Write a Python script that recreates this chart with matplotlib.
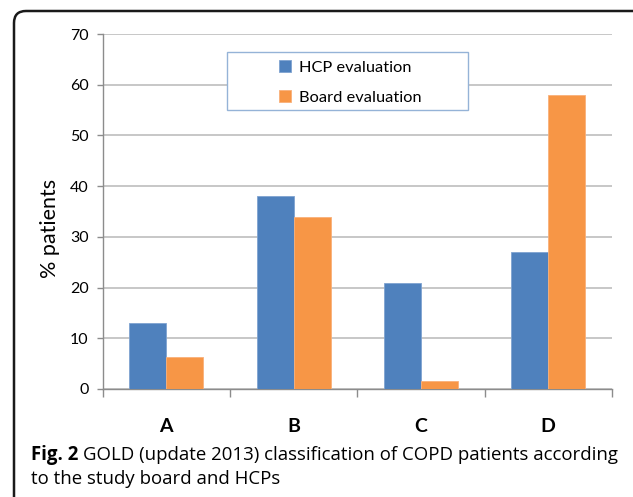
import matplotlib
matplotlib.use("Agg")
import matplotlib.pyplot as plt
import numpy as np
from matplotlib.patches import FancyBboxPatch, Rectangle
from matplotlib.transforms import IdentityTransform

# data
categories = ["A", "B", "C", "D"]
hcp_values = [13, 38, 21, 27]
board_values = [6.3, 34, 1.5, 58]
series_names = ["HCP evaluation", "Board evaluation"]
y_ticks = [0, 10, 20, 30, 40, 50, 60, 70]

COLORS = {
    'hcp': '#4F81BD',
    'board': '#F79646',
    'grid': '#B8B8B8',
    'axis': '#8C8C8C',
    'legend_edge': '#95B3D7',
    'frame': '#1A1A1A',
}

plt.rcParams['font.family'] = ['Lato', 'DejaVu Sans']

W, H = 633, 497
fig = plt.figure(figsize=(W / 100, H / 100), dpi=100)
ax = fig.add_axes([102.5 / W, 1 - 389 / H, (612 - 102.5) / W, (389 - 34) / H])

x = np.arange(len(categories))
bw = 0.29
ax.bar(x - bw / 2, hcp_values, bw, color=COLORS['hcp'], edgecolor='#7FA3D0',
       linewidth=0.6, label=series_names[0], zorder=3)
ax.bar(x + bw / 2, board_values, bw, color=COLORS['board'], edgecolor='#F9B07A',
       linewidth=0.6, label=series_names[1], zorder=3)

ax.set_xlim(-0.5, len(categories) - 0.5)
ax.set_ylim(0, 70)
ax.set_yticks(y_ticks)
ax.tick_params(axis='y', labelsize=11.5, length=4, width=1, color=COLORS['axis'], pad=6)
ax.yaxis.grid(True, color=COLORS['grid'], linewidth=1.1, zorder=0)
ax.set_axisbelow(True)

# category labels centred, tick marks at group boundaries
ax.set_xticks(x)
ax.set_xticklabels(categories, fontsize=14, fontweight='bold')
ax.tick_params(axis='x', length=0, pad=21)
ax.set_xticks(np.arange(-0.5, len(categories)), minor=True)
ax.tick_params(axis='x', which='minor', length=6, width=1, color=COLORS['axis'])

for s in ['top', 'right']:
    ax.spines[s].set_visible(False)
for s in ['left', 'bottom']:
    ax.spines[s].set_color(COLORS['axis'])
    ax.spines[s].set_linewidth(1)

fig.text(50 / W, 1 - 228 / H, '% patients', rotation=90, fontsize=15.5,
         ha='center', va='center')

# legend box (white, light blue edge) with entries inside
lx0, lx1, ly0, ly1 = 227, 468, 52, 110
box = Rectangle(((lx0 - 102.5) / (612 - 102.5), (389 - ly1) / 355),
                (lx1 - lx0) / (612 - 102.5), (ly1 - ly0) / 355,
                transform=ax.transAxes, facecolor='white',
                edgecolor=COLORS['legend_edge'], linewidth=1, zorder=4)
ax.add_patch(box)
leg = ax.legend(loc='upper left',
                bbox_to_anchor=((266 - 102.5) / (612 - 102.5), (389 - 47) / 355),
                frameon=False, fontsize=11.8, handlelength=0.75, handleheight=0.75,
                handletextpad=0.45, labelspacing=0.95, borderpad=0.3)
leg.set_zorder(5)

# caption
t1 = fig.text(31 / W, 1 - 460 / H, 'Fig. 2', fontsize=13.4, fontweight='bold',
              family='Open Sans', va='baseline')
fig.canvas.draw()
bb = t1.get_window_extent()
fig.text((bb.x1 + 5) / W, 1 - 460 / H,
         'GOLD (update 2013) classification of COPD patients according',
         fontsize=13.4, family='Open Sans', va='baseline')
fig.text(31 / W, 1 - 484 / H, 'to the study board and HCPs', fontsize=13.4,
         family='Open Sans', va='baseline')

# rounded frame around the figure (runs off right and bottom edges)
frame = FancyBboxPatch((14, -30), 650, H - 11 + 30,
                       boxstyle='round,pad=0,rounding_size=12',
                       transform=IdentityTransform(), facecolor='none',
                       edgecolor=COLORS['frame'], linewidth=1.8)
fig.patches.append(frame)

fig.savefig('out.png', dpi=100, facecolor='white')
